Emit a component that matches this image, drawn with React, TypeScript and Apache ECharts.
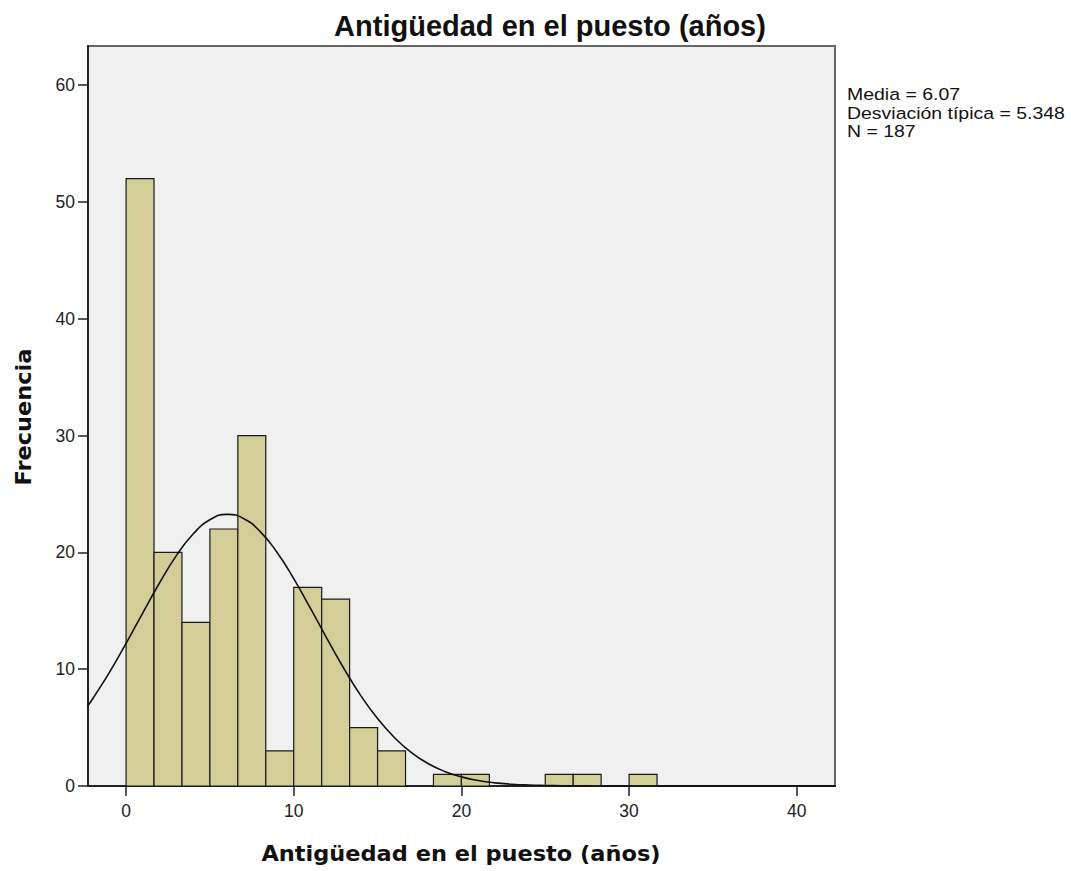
import React, { useEffect, useRef } from "react";
import * as echarts from "echarts";

const titleText = "Antigüedad en el puesto (años)";
const xName = "Antigüedad en el puesto (años)";
const yName = "Frecuencia";
const statsLines = ["Media = 6.07", "Desviación típica = 5.348", "N = 187"];

const binStart = [0, 1.667, 3.333, 5, 6.667, 8.333, 10, 11.667, 13.333, 15, 18.333, 20, 25, 26.667, 30];
const binEnd = [1.667, 3.333, 5, 6.667, 8.333, 10, 11.667, 13.333, 15, 16.667, 20, 21.667, 26.667, 28.333, 31.667];
const counts = [52, 20, 14, 22, 30, 3, 17, 16, 5, 3, 1, 1, 1, 1, 1];

const curveX = [-2.3, -2, -1, 0, 1, 2, 3, 4, 5, 6, 6.07, 7, 8, 9, 10, 11, 12, 13, 14, 15, 16, 17, 18, 19, 20, 21, 22, 23, 24, 25, 26, 27, 28, 29, 30, 32, 35, 40, 42.3];
const curveY = [6.83, 7.45, 9.71, 12.21, 14.83, 17.4, 19.72, 21.57, 22.79, 23.25, 23.25, 22.9, 21.78, 20.01, 17.75, 15.2, 12.57, 10.04, 7.74, 5.77, 4.15, 2.88, 1.93, 1.25, 0.78, 0.47, 0.27, 0.155, 0.084, 0.044, 0.022, 0.01, 0.005, 0.002, 0.001, 0, 0, 0, 0];

const xTicks = [0, 10, 20, 30, 40];
const yTicks = [0, 10, 20, 30, 40, 50, 60];

const SANS = "'Liberation Sans', Arial, sans-serif";
const BOLD = "'DejaVu Sans', Verdana, sans-serif";

export default function App() {
  const ref = useRef<HTMLDivElement>(null);
  useEffect(() => {
    if (!ref.current) return;
    const chart = echarts.init(ref.current, null, { renderer: "svg" });
    const bars = binStart.map((s, i) => [s, binEnd[i], counts[i]]);
    const curve = curveX.map((x, i) => [x, curveY[i]]);
    chart.setOption({
      animation: false,
      backgroundColor: "#ffffff",
      grid: {
        left: 88,
        right: 236,
        top: 46,
        bottom: 85,
        show: true,
        backgroundColor: "#f0f0f0",
        borderColor: "#666666",
        borderWidth: 2,
      },
      xAxis: {
        type: "value",
        min: -2.27,
        max: 42.28,
        splitLine: { show: false },
        axisLine: { show: true, onZero: false, lineStyle: { color: "#222", width: 2 } },
        axisTick: { show: true, inside: false, customValues: xTicks, length: 10, lineStyle: { color: "#222", width: 1.5 } },
        axisLabel: { customValues: xTicks, color: "#222", fontSize: 17.5, fontFamily: SANS, margin: 16 },
      },
      yAxis: {
        type: "value",
        min: 0,
        max: 63.35,
        splitLine: { show: false },
        axisLine: { show: true, onZero: false, lineStyle: { color: "#222", width: 2 } },
        axisTick: { show: true, inside: false, customValues: yTicks, length: 10, lineStyle: { color: "#222", width: 1.5 } },
        axisLabel: { customValues: yTicks, color: "#222", fontSize: 17.5, fontFamily: SANS, margin: 13 },
      },
      series: [
        {
          type: "custom",
          data: bars,
          renderItem: (params: any, api: any) => {
            const p0 = api.coord([api.value(0), api.value(2)]);
            const p1 = api.coord([api.value(1), 0]);
            return {
              type: "rect",
              shape: { x: p0[0], y: p0[1], width: p1[0] - p0[0], height: p1[1] - p0[1] },
              style: { fill: "#d3ce97", stroke: "#1a1a1a", lineWidth: 1.2 },
            };
          },
          z: 2,
        },
        {
          type: "line",
          data: curve,
          smooth: true,
          showSymbol: false,
          symbol: "none",
          lineStyle: { color: "#111", width: 1.6 },
          z: 3,
        },
      ],
      graphic: [
        {
          type: "text",
          x: 550,
          y: 26,
          style: { text: titleText, fontSize: 29, fontWeight: "bold", fontFamily: SANS, fill: "#111", align: "center", verticalAlign: "middle" },
        },
        {
          type: "text",
          x: 461,
          y: 854,
          scaleX: 1.07,
          style: { text: xName, fontSize: 21, fontWeight: "bold", fontFamily: BOLD, fill: "#111", align: "center", verticalAlign: "middle" },
        },
        {
          type: "text",
          x: 24,
          y: 417,
          rotation: Math.PI / 2,
          scaleX: 1.07,
          style: { text: yName, fontSize: 21, fontWeight: "bold", fontFamily: BOLD, fill: "#111", align: "center", verticalAlign: "middle" },
        },
        ...statsLines.map((t, i) => ({
          type: "text",
          x: 847,
          y: 95 + i * 18.5,
          scaleX: 1.18,
          style: { text: t, fontSize: 16.5, fontFamily: SANS, fill: "#111", verticalAlign: "middle" },
        })),
      ],
    });
    return () => chart.dispose();
  }, []);
  return <div ref={ref} style={{ position: "fixed", left: 0, top: 0, width: 1071, height: 871 }} />;
}
